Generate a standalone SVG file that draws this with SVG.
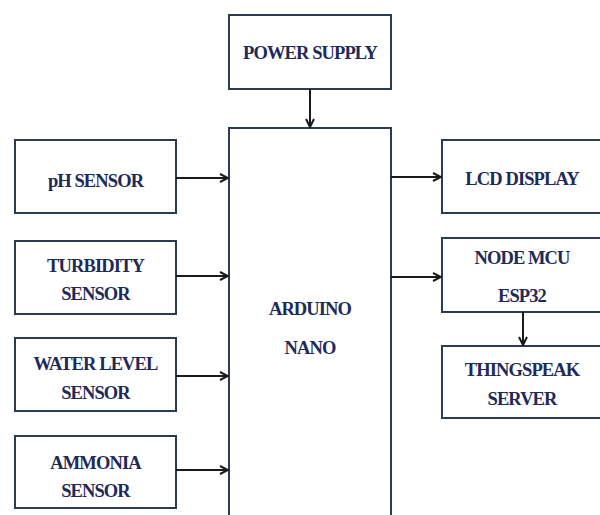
<svg xmlns="http://www.w3.org/2000/svg" width="600" height="515" viewBox="0 0 600 515">
<defs>
<style>
.box{fill:#ffffff;stroke:#2d3b50;stroke-width:2}
.t{font-family:"Liberation Serif","Times New Roman",serif;font-weight:bold;font-size:18.5px;fill:#1e2a58;text-anchor:middle;letter-spacing:-0.9px}
.c{stroke:#1a1a1a;stroke-width:2;fill:none}
</style>
<marker id="ah" markerWidth="10" markerHeight="10" refX="9" refY="5" orient="auto" markerUnits="userSpaceOnUse">
<path d="M1,1 L9,5 L1,9" fill="none" stroke="#1a1a1a" stroke-width="2"/>
</marker>
</defs>
<rect width="600" height="515" fill="#ffffff"/>
<g id="power"><rect class="box" x="229" y="15" width="162" height="74"/><text class="t" x="310" y="59">POWER SUPPLY</text></g>
<g id="arduino"><rect class="box" x="229" y="128" width="162" height="400"/><text class="t" x="310" y="315">ARDUINO</text><text class="t" x="310" y="354">NANO</text></g>
<g id="ph"><rect class="box" x="15" y="140" width="161" height="73"/><text class="t" x="95.5" y="187">pH SENSOR</text></g>
<g id="turbidity"><rect class="box" x="15" y="241" width="161" height="73"/><text class="t" x="95.5" y="272">TURBIDITY</text><text class="t" x="95.5" y="300">SENSOR</text></g>
<g id="water"><rect class="box" x="15" y="338" width="161" height="73"/><text class="t" x="95.5" y="370">WATER LEVEL</text><text class="t" x="95.5" y="399">SENSOR</text></g>
<g id="ammonia"><rect class="box" x="15" y="436" width="161" height="72"/><text class="t" x="95.5" y="469">AMMONIA</text><text class="t" x="95.5" y="497">SENSOR</text></g>
<g id="lcd"><rect class="box" x="442" y="140" width="162" height="73"/><text class="t" x="522" y="185">LCD DISPLAY</text></g>
<g id="nodemcu"><rect class="box" x="442" y="238" width="162" height="74"/><text class="t" x="522" y="264">NODE MCU</text><text class="t" x="522" y="302">ESP32</text></g>
<g id="thingspeak"><rect class="box" x="442" y="346" width="162" height="72"/><text class="t" x="522" y="376">THINGSPEAK</text><text class="t" x="522" y="405">SERVER</text></g>
<g id="connectors">
<line class="c" x1="310" y1="89" x2="310" y2="127" marker-end="url(#ah)"/>
<line class="c" x1="176" y1="178" x2="228" y2="178" marker-end="url(#ah)"/>
<line class="c" x1="176" y1="276" x2="228" y2="276" marker-end="url(#ah)"/>
<line class="c" x1="176" y1="376" x2="228" y2="376" marker-end="url(#ah)"/>
<line class="c" x1="176" y1="470" x2="228" y2="470" marker-end="url(#ah)"/>
<line class="c" x1="391" y1="177" x2="441" y2="177" marker-end="url(#ah)"/>
<line class="c" x1="391" y1="277" x2="441" y2="277" marker-end="url(#ah)"/>
<line class="c" x1="523" y1="312" x2="523" y2="345" marker-end="url(#ah)"/>
</g>
</svg>
